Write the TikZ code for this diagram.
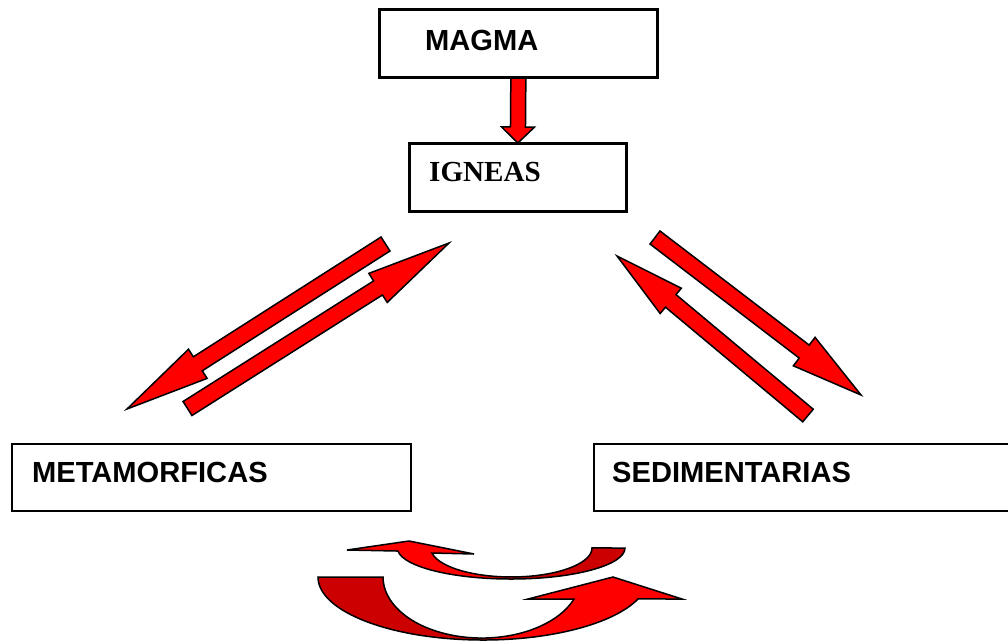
\documentclass[tikz,border=0pt]{standalone}
\usepackage{fontspec}
\setmainfont{Liberation Serif}
\newfontfamily\arialfont{Liberation Sans}
\usetikzlibrary{calc}
\definecolor{arrowred}{RGB}{255,0,0}
\definecolor{arrowdark}{RGB}{204,0,0}
\tikzset{
  box/.style={draw=black, line width=1.7pt, rectangle, inner sep=0pt, anchor=north west},
  sanslabel/.style={font=\arialfont\bfseries\fontsize{29.1}{31}\selectfont, anchor=base west, inner sep=0pt},
  seriflabel/.style={font=\bfseries\fontsize{29.1}{31}\selectfont, anchor=base west, inner sep=0pt},
  blockarrow/.style={fill=arrowred, draw=black, line width=1.5pt, line join=miter},
  curvefront/.style={fill=arrowred},
  curveback/.style={fill=arrowdark},
  curveoutline/.style={draw=black, line width=1.5pt, line join=miter},
}
\newcommand\blockarrowpath[5]{% tail, tip, shaft half width, head half width, head length
  \coordinate (hb) at ($(#2)!#5!(#1)$);
  \draw[blockarrow] ($(#1)!#3!90:(#2)$) -- ($(hb)!#3!90:(#2)$) -- ($(hb)!#4!90:(#2)$) -- (#2)
    -- ($(hb)!#4!-90:(#2)$) -- ($(hb)!#3!-90:(#2)$) -- ($(#1)!#3!-90:(#2)$) -- cycle;
}
\begin{document}
\begin{tikzpicture}[x=1pt,y=-1pt]
\clip (0,0) rectangle (1008,641);
\fill[white] (0,0) rectangle (1008,641);

% boxes (nodes)
\node[box, minimum width=277pt, minimum height=67pt] (magma) at (379,9) {};
\node[box, minimum width=216pt, minimum height=67pt] (igneas) at (409,143) {};
\node[box, minimum width=399pt, minimum height=67pt] (meta) at (11,443) {};
\node[box, minimum width=425pt, minimum height=67pt] (sedi) at (593,443) {};

% arrow magma -> igneas
\blockarrowpath{magma.south}{igneas.north}{7.5pt}{16.5pt}{16pt}

% diagonal arrow end points
\coordinate (a1t) at (385.5,244);  \coordinate (a1h) at (127,409);
\coordinate (a2t) at (187.5,408.5); \coordinate (a2h) at (449,243);
\coordinate (a3t) at (655,237.5);  \coordinate (a3h) at (861,395);
\coordinate (a4t) at (808,415.5);  \coordinate (a4h) at (617,256);
\blockarrowpath{a1t}{a1h}{8.3pt}{17.3pt}{84pt}
\blockarrowpath{a2t}{a2h}{8.3pt}{17.2pt}{84pt}
\blockarrowpath{a3t}{a3h}{8.2pt}{17.9pt}{71.5pt}
\blockarrowpath{a4t}{a4h}{8.2pt}{16.5pt}{70pt}

% redraw box borders over arrow ends
\draw[line width=1.7pt] (magma.north west) rectangle (magma.south east);
\draw[line width=1.7pt] (igneas.north west) rectangle (igneas.south east);

% labels
\node[sanslabel] (magmatext) at (425,50) {MAGMA};
\node[seriflabel] (igneastext) at (429,181) {IGNEAS};
\node[sanslabel] (metatext) at (32,482) {METAMORFICAS};
\node[sanslabel] (seditext) at (612,482) {SEDIMENTARIAS};

% upper curved arrow (pointing left)
\fill[curveback] (511.2,579) arc[start angle=90, end angle=0, x radius=113.8, y radius=31]
  -- (592,548) arc[start angle=0, end angle=90, x radius=80.6, y radius=29] -- cycle;
\fill[curvefront] (511.2,579) arc[start angle=90, end angle=174.4, x radius=113.8, y radius=31]
  -- (347,550) -- (409,541) -- (474,554) -- (432,553)
  arc[start angle=170, end angle=90, x radius=80.6, y radius=29] -- cycle;
\draw[curveoutline] (625,548) arc[start angle=0, end angle=174.4, x radius=113.8, y radius=31]
  -- (347,550) -- (409,541) -- (474,554) -- (432,553)
  arc[start angle=170, end angle=0, x radius=80.6, y radius=29] -- cycle;

% lower curved arrow (pointing right)
\fill[curveback] (318,577) arc[start angle=180, end angle=90, x radius=165.2, y radius=63]
  -- (481.8,638) arc[start angle=90, end angle=180, x radius=98.8, y radius=61] -- cycle;
\fill[curvefront] (483.2,640) arc[start angle=90, end angle=20.4, x radius=165.2, y radius=63]
  -- (682,599) -- (613,577) -- (528,599) -- (574,599)
  arc[start angle=21.1, end angle=90, x radius=98.8, y radius=61] -- cycle;
\draw[curveoutline] (318,577) arc[start angle=180, end angle=20.4, x radius=165.2, y radius=63]
  -- (682,599) -- (613,577) -- (528,599) -- (574,599)
  arc[start angle=21.1, end angle=180, x radius=98.8, y radius=61] -- cycle;
\end{tikzpicture}
\end{document}
